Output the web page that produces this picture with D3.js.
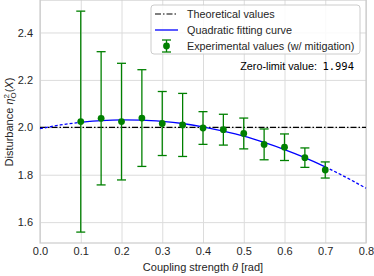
<!DOCTYPE html>
<html><head><meta charset="utf-8">
<script src="https://cdn.jsdelivr.net/npm/d3@7"></script>
<style>
html,body{margin:0;padding:0;background:#fff;}
svg{display:block;font-family:"Liberation Sans",Arial,sans-serif;}
</style></head>
<body><svg id="c" width="374" height="276"></svg>
<script>
// Experimental data (theta, value, error)
const theta = [0.10,0.15,0.20,0.25,0.30,0.35,0.40,0.45,0.50,0.55,0.60,0.65,0.70];
const values = [2.024,2.038,2.024,2.039,2.016,2.010,1.997,1.990,1.974,1.928,1.916,1.872,1.820];
const errors = [0.466,0.281,0.246,0.204,0.135,0.133,0.069,0.065,0.065,0.065,0.056,0.041,0.034];
// Quadratic fitting curve
const fitTheta = [0,0.05,0.10,0.15,0.20,0.25,0.30,0.35,0.40,0.45,0.50,0.55,0.60,0.65,0.70,0.75,0.80];
const fitValue = [1.994,2.010,2.021,2.028,2.031,2.030,2.025,2.016,2.002,1.984,1.963,1.936,1.906,1.872,1.833,1.790,1.743];
const theoretical = 2.0;
const xTicks = [0,0.1,0.2,0.3,0.4,0.5,0.6,0.7,0.8];
const yTicks = [1.6,1.8,2.0,2.2,2.4];
const zeroLimit = "1.994";

const svg = d3.select("#c");
const L=40,R=366,T=0,B=243;
const x = d3.scaleLinear().domain([0,0.8]).range([L,R]);
const y = d3.scaleLinear().domain([1.512,2.537]).range([B,T]);
const txt="#262626", grid="#dcdcdc";

// grid
const gx = svg.append("g").attr("transform",`translate(0,${B})`)
  .call(d3.axisBottom(x).tickValues(xTicks).tickFormat(d3.format(".1f")).tickSize(-(B-T)).tickPadding(4));
const gy = svg.append("g").attr("transform",`translate(${L},0)`)
  .call(d3.axisLeft(y).tickValues(yTicks).tickFormat(d3.format(".1f")).tickSize(-(R-L)).tickPadding(7));
[gx,gy].forEach(g=>{
  g.select(".domain").remove();
  g.selectAll(".tick line").attr("stroke",grid).attr("stroke-width",1);
  g.selectAll(".tick text").attr("fill",txt).style("font-size","11px").style("font-family","Liberation Sans, Arial, sans-serif");
});
// frame
svg.append("rect").attr("x",L).attr("y",T).attr("width",R-L).attr("height",B-T)
  .attr("fill","none").attr("stroke","#cccccc").attr("stroke-width",1.2);

// theoretical line
svg.append("line").attr("x1",x(0)).attr("x2",x(0.8)).attr("y1",y(theoretical)).attr("y2",y(theoretical))
  .attr("stroke","#000").attr("stroke-width",1.2).attr("stroke-dasharray","6,2,1.5,2");

// fitting curve: dashed outside data range, solid inside
const line = d3.line().x(d=>x(d[0])).y(d=>y(d[1])).curve(d3.curveMonotoneX);
const pts = fitTheta.map((t,i)=>[t,fitValue[i]]);
const inner = pts.filter(p=>p[0]>=0.1-1e-9 && p[0]<=0.7+1e-9);
const left = pts.filter(p=>p[0]<=0.1+1e-9);
const right = pts.filter(p=>p[0]>=0.7-1e-9);
svg.append("path").attr("d",line(left)).attr("fill","none").attr("stroke","#0000ff").attr("stroke-width",1.3).attr("stroke-dasharray","3,2");
svg.append("path").attr("d",line(right)).attr("fill","none").attr("stroke","#0000ff").attr("stroke-width",1.3).attr("stroke-dasharray","3,2");
svg.append("path").attr("d",line(inner)).attr("fill","none").attr("stroke","#0000ff").attr("stroke-width",1.3);

// error bars
const g = svg.append("g");
const green="#008000";
theta.forEach((t,i)=>{
  const cx=x(t), y1=y(values[i]+errors[i]), y2=y(values[i]-errors[i]);
  g.append("line").attr("x1",cx).attr("x2",cx).attr("y1",y1).attr("y2",y2).attr("stroke",green).attr("stroke-width",1.3);
  [y1,y2].forEach(yy=>g.append("line").attr("x1",cx-4.5).attr("x2",cx+4.5).attr("y1",yy).attr("y2",yy).attr("stroke",green).attr("stroke-width",1.3));
  g.append("circle").attr("cx",cx).attr("cy",y(values[i])).attr("r",3.4).attr("fill",green);
});

// legend
const lg = svg.append("g");
lg.append("rect").attr("x",151).attr("y",5).attr("width",209).attr("height",49).attr("rx",3)
  .attr("fill","rgba(255,255,255,0.85)").attr("stroke","#cccccc").attr("stroke-width",1);
const rows=[14,30,46];
lg.append("line").attr("x1",155).attr("x2",178).attr("y1",rows[0]).attr("y2",rows[0]).attr("stroke","#000").attr("stroke-width",1.2).attr("stroke-dasharray","6,2,1.5,2");
lg.append("line").attr("x1",155).attr("x2",178).attr("y1",rows[1]).attr("y2",rows[1]).attr("stroke","#0000ff").attr("stroke-width",1.3);
lg.append("line").attr("x1",166.5).attr("x2",166.5).attr("y1",rows[2]-6).attr("y2",rows[2]+6).attr("stroke",green).attr("stroke-width",1.3);
[rows[2]-6,rows[2]+6].forEach(yy=>lg.append("line").attr("x1",162).attr("x2",171).attr("y1",yy).attr("y2",yy).attr("stroke",green).attr("stroke-width",1.3));
lg.append("circle").attr("cx",166.5).attr("cy",rows[2]).attr("r",3.4).attr("fill",green);
const labels=["Theoretical values","Quadratic fitting curve","Experimental values (w/ mitigation)"];
labels.forEach((s,i)=>lg.append("text").attr("x",187).attr("y",rows[i]).attr("dy","0.35em")
  .attr("fill",txt).style("font-size","10.8px").text(s));

// zero-limit annotation
svg.append("text").attr("x",317).attr("y",66).attr("dy","0.35em").attr("text-anchor","end")
  .attr("fill","#000").style("font-size","10.8px").text("Zero-limit value:");
svg.append("text").attr("x",354).attr("y",66).attr("dy","0.35em").attr("text-anchor","end")
  .attr("fill","#000").style("font-family","DejaVu Sans Mono").style("font-size","10.5px").text(zeroLimit);

// axis labels
svg.append("text").attr("x",(L+R)/2).attr("y",271).attr("text-anchor","middle").attr("fill",txt)
  .style("font-size","11px").html('Coupling strength <tspan font-style="italic">θ</tspan> [rad]');
const yl = svg.append("text").attr("transform","translate(13,122) rotate(-90)").attr("text-anchor","middle")
  .attr("fill",txt).style("font-size","11px");
yl.append("tspan").text("Disturbance ");
yl.append("tspan").attr("font-style","italic").text("η");
yl.append("tspan").attr("dy","-4").style("font-size","8px").text("2");
yl.append("tspan").attr("dx","-4.5").attr("dy","7").style("font-size","8px").text("O");
yl.append("tspan").attr("dy","-3").text("(");
yl.append("tspan").attr("font-style","italic").text("X");
yl.append("tspan").text(")");
</script></body></html>
